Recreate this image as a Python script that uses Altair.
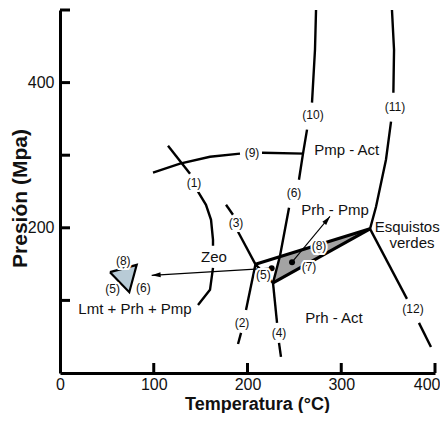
import math
import altair as alt
import pandas as pd

# ---------------- boundary curves (T in °C, P in MPa) ----------------
c1a_T = [115.2, 138.7];                      c1a_P = [313.1, 274.5]
c1b_T = [147.2, 155.7, 161.1, 163.2, 163.2]; c1b_P = [249.7, 231.7, 211.0, 183.4, 175.2]
c1c_T = [163.2, 160.0, 147.2];               c1c_P = [144.8, 114.5, 93.8]
c9a_T = [99.2, 128.0, 160.0, 192.0];         c9a_P = [275.9, 288.3, 297.9, 302.1]
c9b_T = [215.5, 260.3];                      c9b_P = [303.4, 302.1]
c10a_T = [273.1, 272.0, 268.8];              c10a_P = [500.0, 445.5, 372.4]
c10b_T = [263.5, 259.2, 254.9];              c10b_P = [335.2, 302.1, 266.2]
c6_T = [244.3, 234.7, 227.2];                c6_P = [227.6, 161.4, 124.1]
c11a_T = [354.1, 356.3, 355.6];              c11a_P = [500.0, 445.0, 386.0]
c11b_T = [353.1, 347.7, 337.1, 330.7];       c11b_P = [346.2, 293.8, 229.0, 198.6]
c12a_T = [330.7, 370.1];                     c12a_P = [198.6, 102.1]
c12b_T = [382.9, 395.7];                     c12b_P = [69.0, 35.9]
c4a_T = [227.2, 231.5];                      c4a_P = [124.1, 69.0]
c4b_T = [233.6, 235.7];                      c4b_P = [41.4, 22.1]
c2a_T = [208.5, 198.4];                      c2a_P = [149.7, 86.9]
c2b_T = [193.1, 189.9];                      c2b_P = [55.2, 40.0]
c3a_T = [177.1, 184.5];                      c3a_P = [231.7, 217.9]
c3b_T = [189.9, 208.5];                      c3b_P = [194.5, 149.7]
c5_T = [208.5, 227.2];                       c5_P = [149.7, 124.1]
# thick edges of the grey field
up_T = [208.5, 330.7];                       up_P = [149.7, 198.6]
lo_T = [227.2, 330.7];                       lo_P = [124.1, 198.6]

# grey field (7): columns T, upper P, lower P
grey_T = [227.2, 234.7, 330.7]
grey_hi = [124.1, 160.1, 198.6]
grey_lo = [124.1, 129.5, 198.6]

# small blue triangle
tri_T = [53.3, 73.9, 81.8, 53.3]
tri_P = [138.9, 111.3, 149.0, 138.9]
triA_T = [53.3, 73.9, 81.8]
triA_hi = [138.9, 146.2, 149.0]
triA_lo = [138.9, 111.3, 149.0]

# dots and arrows
dot_T = [225.8, 247.5]
dot_P = [144.4, 152.7]
arr_T0 = [225.8, 247.5]; arr_P0 = [144.4, 152.7]
arr_T1 = [97.8, 288.0];  arr_P1 = [134.5, 215.6]

# labels
reg_text = ["Zeo", "Pmp - Act", "Prh - Pmp", "Esquistos", "verdes", "Prh - Act", "Lmt + Prh + Pmp"]
reg_T = [164.3, 305.8, 293.3, 370.3, 375.5, 292.3, 80.0]
reg_P = [160.0, 307.6, 224.8, 201.4, 179.3, 75.9, 87.9]

num_text = ["(1)", "(2)", "(3)", "(4)", "(5)", "(6)", "(7)", "(8)", "(9)", "(10)", "(11)", "(12)",
            "(8)", "(5)", "(6)"]
num_T = [142.9, 194.1, 187.7, 233.6, 216.9, 249.6, 265.6, 276.3, 204.8, 269.9, 357.3, 376.5,
         67.5, 56.2, 88.9]
num_P = [262.1, 69.0, 206.9, 55.2, 135.2, 248.3, 146.2, 175.2, 303.4, 355.9, 366.9, 88.3,
         154.9, 115.4, 116.8]

x_ticks = [100, 200, 300, 400]
y_ticks = [100, 200, 300, 400, 500]
x_labels = [0, 100, 200, 300, 400]
y_labels = [200, 400]

W, H = 375, 363
FONT = "Liberation Sans"

normal = [("c1a", c1a_T, c1a_P), ("c1b", c1b_T, c1b_P), ("c1c", c1c_T, c1c_P),
          ("c9a", c9a_T, c9a_P), ("c9b", c9b_T, c9b_P), ("c10a", c10a_T, c10a_P),
          ("c10b", c10b_T, c10b_P), ("c6", c6_T, c6_P), ("c11a", c11a_T, c11a_P),
          ("c11b", c11b_T, c11b_P), ("c12a", c12a_T, c12a_P), ("c12b", c12b_T, c12b_P),
          ("c4a", c4a_T, c4a_P), ("c4b", c4b_T, c4b_P), ("c2a", c2a_T, c2a_P),
          ("c2b", c2b_T, c2b_P), ("c3a", c3a_T, c3a_P), ("c3b", c3b_T, c3b_P),
          ("c5", c5_T, c5_P)]
thick = [("up", up_T, up_P), ("lo", lo_T, lo_P)]


def seg_df(segs):
    rows = []
    for name, ts, ps in segs:
        for i, (t, p) in enumerate(zip(ts, ps)):
            rows.append({"seg": name, "i": i, "T": t, "P": p})
    return pd.DataFrame(rows)


xs = alt.Scale(domain=[0, 400], nice=False, zero=False)
ys = alt.Scale(domain=[0, 500], nice=False, zero=False)

XAX = alt.Axis(values=x_labels, ticks=False, grid=False, domainWidth=3,
               domainColor="black", labelFontSize=16, labelFont=FONT, labelFlush=False,
               labelAlign={"condition": {"test": "datum.value == 400", "value": "right"},
                           "value": "center"},
               labelOffset={"condition": {"test": "datum.value == 400", "value": 5},
                            "value": 0},
               labelColor="#111", labelPadding=3, titleFont=FONT,
               titleFontSize=18, titleFontWeight="bold", titleColor="#111",
               titleBaseline="alphabetic", titleY=36, titleX=197)
YAX = alt.Axis(values=y_labels, ticks=False, grid=False, domainWidth=3,
               domainColor="black", labelFontSize=16, labelFont=FONT, labelFlush=False,
               labelColor="#111", labelPadding=6, titleFont=FONT,
               titleFontSize=21, titleFontWeight="bold", titleColor="#111",
               titleBaseline="alphabetic", titleX=-34, titleY=188,
               titleAngle=270)
XT = "Temperatura (°C)"
YT = "Presión (Mpa)"


def X(f="T"):
    return alt.X(f"{f}:Q", scale=xs, axis=XAX, title=XT)


def Y(f="P"):
    return alt.Y(f"{f}:Q", scale=ys, axis=YAX, title=YT)


ytick = alt.Chart(pd.DataFrame({"P": y_ticks})).mark_rule(strokeWidth=3, color="black").encode(
    y=Y(), x=alt.value(0), x2=alt.value(10))
xtick = alt.Chart(pd.DataFrame({"T": x_ticks})).mark_rule(strokeWidth=3, color="black").encode(
    x=X(), y=alt.value(H), y2=alt.value(H - 10))

grey = alt.Chart(pd.DataFrame({"T": grey_T, "hi": grey_hi, "lo": grey_lo})).mark_area(
    color="#a3a3a3", opacity=1).encode(x=X(), y=Y("hi"), y2="lo:Q")

triA = alt.Chart(pd.DataFrame({"T": triA_T, "hi": triA_hi, "lo": triA_lo})).mark_area(
    color="#b8cbd6", opacity=1).encode(x=X(), y=Y("hi"), y2="lo:Q")
tri = alt.Chart(pd.DataFrame({"T": tri_T, "P": tri_P, "i": range(len(tri_T))})).mark_line(
    color="black", strokeWidth=2.2, strokeJoin="miter").encode(x=X(), y=Y(), order="i:Q")

lines_n = alt.Chart(seg_df(normal)).mark_line(color="black", strokeWidth=2.4).encode(
    x=X(), y=Y(), detail="seg:N", order="i:Q")
lines_t = alt.Chart(seg_df(thick)).mark_line(color="black", strokeWidth=3.2).encode(
    x=X(), y=Y(), detail="seg:N", order="i:Q")

# arrows
sx, sy = W / 400, H / 500
arr_rows, head_rows = [], []
for k in range(len(arr_T0)):
    arr_rows += [{"a": k, "i": 0, "T": arr_T0[k], "P": arr_P0[k]},
                 {"a": k, "i": 1, "T": arr_T1[k], "P": arr_P1[k]}]
    ang = math.degrees(math.atan2((arr_T1[k] - arr_T0[k]) * sx, (arr_P1[k] - arr_P0[k]) * sy)) % 360
    head_rows.append({"T": arr_T1[k], "P": arr_P1[k], "ang": ang})
arr = alt.Chart(pd.DataFrame(arr_rows)).mark_line(color="black", strokeWidth=1.1).encode(
    x=X(), y=Y(), detail="a:N", order="i:Q")
heads = alt.Chart(pd.DataFrame(head_rows)).mark_point(
    shape="M0,0L0.55,2L-0.55,2Z", filled=True, color="black", opacity=1, size=80).encode(
    x=X(), y=Y(), angle=alt.Angle("ang:Q", scale=None))

dots = alt.Chart(pd.DataFrame({"T": dot_T, "P": dot_P})).mark_circle(
    color="black", opacity=1, size=36).encode(x=X(), y=Y())

num_df = pd.DataFrame({"t": num_text, "T": num_T, "P": num_P})
num_halo = alt.Chart(num_df).mark_text(font=FONT, fontSize=12, stroke="white", strokeWidth=4,
                                       color="white", baseline="middle").encode(
    x=X(), y=Y(), text="t:N")
nums = alt.Chart(num_df).mark_text(font=FONT, fontSize=12, color="#111", baseline="middle").encode(
    x=X(), y=Y(), text="t:N")
regs = alt.Chart(pd.DataFrame({"t": reg_text, "T": reg_T, "P": reg_P})).mark_text(
    font=FONT, fontSize=15, color="#111", baseline="middle").encode(x=X(), y=Y(), text="t:N")

chart = alt.layer(grey, triA, lines_n, lines_t, tri, arr, heads, dots,
                  ytick, xtick, num_halo, nums, regs).properties(
    width=W, height=H,
    autosize=alt.AutoSizeParams(type="none"),
    padding={"left": 52, "top": 2, "right": 5, "bottom": 40},
).configure_view(stroke=None)

chart.save("out.html", embed_options={"renderer": "svg", "actions": False})
